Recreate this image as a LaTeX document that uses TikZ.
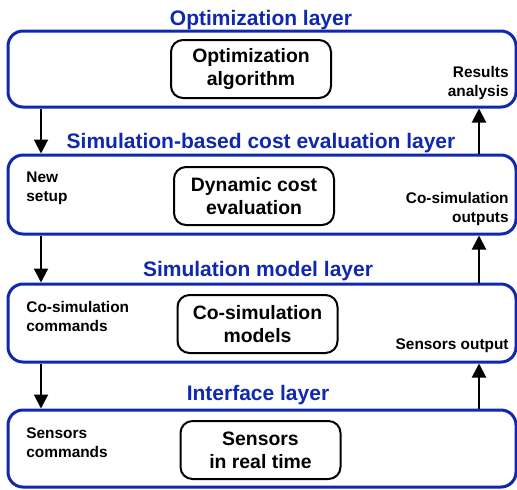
\documentclass[tikz,border=0pt]{standalone}
\usepackage{fontspec}
\setmainfont{Liberation Sans}
\usetikzlibrary{arrows.meta,positioning}
\definecolor{layerblue}{RGB}{16,40,176}

\tikzset{
  layer/.style={draw=layerblue,line width=1.5pt,rounded corners=7.5pt,minimum width=254pt,inner sep=0pt},
  block/.style={draw,line width=1pt,rounded corners=6pt,minimum width=80pt,minimum height=29pt,align=center,font=\fontsize{9.7}{11.6}\selectfont\bfseries},
  title/.style={text=layerblue,anchor=base,font=\fontsize{10.5}{12.6}\selectfont\bfseries},
  note/.style={inner sep=0pt,font=\fontsize{7.7}{9.6}\selectfont\bfseries},
  flow/.style={line width=1pt,-{Triangle[length=7pt,width=7pt]}}
}

\begin{document}
\begin{tikzpicture}[x=0.5pt,y=-0.5pt]
    \useasboundingbox (0,0) rectangle (517,489);
    % layers
    \node[layer,minimum height=38pt] (opt) at (262,69) {};
    \node[layer,minimum height=39.5pt] (cost) at (262,194.5) {};
    \node[layer,minimum height=39pt] (model) at (262,323) {};
    \node[layer,minimum height=38.5pt] (iface) at (262,448.5) {};
    \node[title] (optT) at (261,25) {Optimization layer};
    \node[title] (costT) at (261,148) {Simulation-based cost evaluation layer};
    \node[title] (modelT) at (258,276) {Simulation model layer};
    \node[title] (ifaceT) at (258,400) {Interface layer};
    % blocks
    \node[block] (algo) at (251,69) {Optimization\\algorithm};
    \node[block] (dyn) at (254,196) {Dynamic cost\\evaluation};
    \node[block] (cosim) at (257.5,324) {Co-simulation\\models};
    \node[block] (sens) at (260.5,450) {Sensors\\in real time};
    % side notes
    \node[note,anchor=north west,align=left] (setup) at (26,171) {New\\setup};
    \node[note,anchor=north west,align=left] (cmd) at (26,301) {Co-simulation\\commands};
    \node[note,anchor=north west,align=left] (scmd) at (26,427) {Sensors\\commands};
    \node[note,anchor=north east,align=right] (res) at (509,66) {Results\\analysis};
    \node[note,anchor=north east,align=right] (out) at (509,192) {Co-simulation\\outputs};
    \node[note,anchor=north east,align=right] (sout) at (509,338) {Sensors output};
    % arrows
    \coordinate (dn) at (41,0);
    \coordinate (up) at (479,0);
    \draw[flow] (opt.south -| dn) -- (cost.north -| dn);
    \draw[flow] (cost.south -| dn) -- (model.north -| dn);
    \draw[flow] (model.south -| dn) -- (iface.north -| dn);
    \draw[flow] (iface.north -| up) -- (model.south -| up);
    \draw[flow] (model.north -| up) -- (cost.south -| up);
    \draw[flow] (cost.north -| up) -- (opt.south -| up);
\end{tikzpicture}
\end{document}
